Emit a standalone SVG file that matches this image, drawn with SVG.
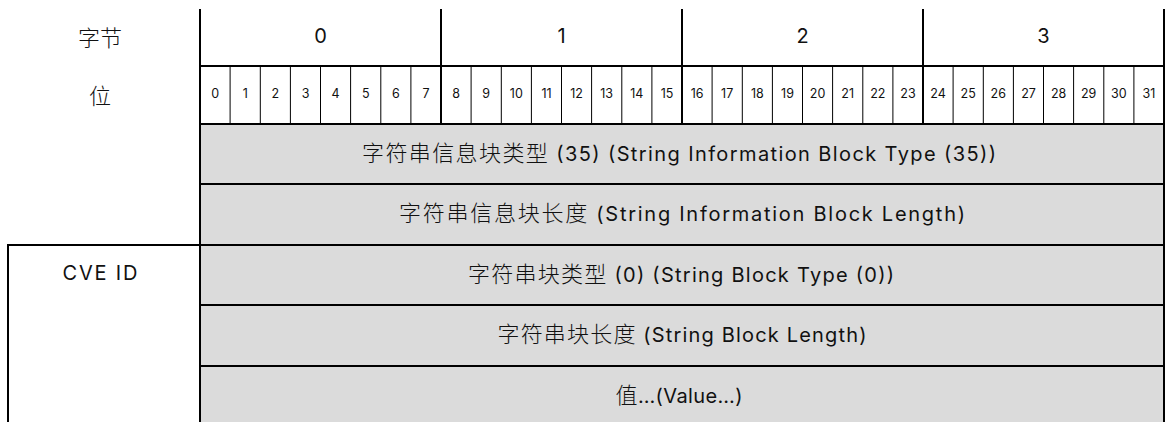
<svg xmlns="http://www.w3.org/2000/svg" width="1169" height="422" viewBox="0 0 1169 422">
<style>
.t{font-family:Inter,"Liberation Sans","Noto Sans CJK SC",sans-serif;fill:#111;text-anchor:middle}
.cjk{font-family:"Noto Sans CJK SC","Liberation Sans",sans-serif;fill:#111;text-anchor:middle;font-weight:300}
.c{font-family:"Noto Sans CJK SC",sans-serif;font-size:22px;font-weight:300}
.bit{font-size:12.5px}
.byte{font-size:20px}
.row{font-size:20px}
.thick{stroke:#000;stroke-width:2;fill:none}
.thin{stroke:#000;stroke-width:1;fill:none}
.cell{fill:#dbdbdb}
</style>
<rect width="1169" height="422" fill="#fff"/>
<g id="labels">
<text class="cjk" x="100" y="46" font-size="22">字节</text>
<text class="cjk" x="100" y="104" font-size="22">位</text>
</g>
<g id="rows-fill">
<rect class="cell" x="200" y="124" width="964" height="298"/>
</g>
<g id="header">
<g id="bits" class="thin">
<path d="M230.1 66V124M260.3 66V124M290.4 66V124M320.5 66V124M350.6 66V124M380.8 66V124M410.9 66V124M471.1 66V124M501.3 66V124M531.4 66V124M561.5 66V124M591.6 66V124M621.8 66V124M651.9 66V124M712.1 66V124M742.3 66V124M772.4 66V124M802.5 66V124M832.6 66V124M862.8 66V124M892.9 66V124M953.1 66V124M983.3 66V124M1013.4 66V124M1043.5 66V124M1073.6 66V124M1103.8 66V124M1133.9 66V124"/>
</g>
<path class="thick" d="M200 9V422M441 9V124M682 9V124M923 9V124M1164 9V422M200 66H1164M200 124H1164"/>
<g class="t byte">
<text x="320.5" y="43">0</text>
<text x="561.5" y="43">1</text>
<text x="802.5" y="43">2</text>
<text x="1043.5" y="43">3</text>
</g>
<g class="t bit">
<text x="215.1" y="98">0</text><text x="245.2" y="98">1</text><text x="275.3" y="98">2</text><text x="305.5" y="98">3</text><text x="335.6" y="98">4</text><text x="365.7" y="98">5</text><text x="395.8" y="98">6</text><text x="426" y="98">7</text>
<text x="456.1" y="98">8</text><text x="486.2" y="98">9</text><text x="516.3" y="98">10</text><text x="546.5" y="98">11</text><text x="576.6" y="98">12</text><text x="606.7" y="98">13</text><text x="636.8" y="98">14</text><text x="667" y="98">15</text>
<text x="697.1" y="98">16</text><text x="727.2" y="98">17</text><text x="757.3" y="98">18</text><text x="787.5" y="98">19</text><text x="817.6" y="98">20</text><text x="847.7" y="98">21</text><text x="877.8" y="98">22</text><text x="908" y="98">23</text>
<text x="938.1" y="98">24</text><text x="968.2" y="98">25</text><text x="998.3" y="98">26</text><text x="1028.5" y="98">27</text><text x="1058.6" y="98">28</text><text x="1088.7" y="98">29</text><text x="1118.8" y="98">30</text><text x="1149" y="98">31</text>
</g>
</g>
<g id="row-lines">
<path class="thick" d="M200 184H1164M200 245H1164M200 305H1164M200 366H1164"/>
</g>
<g id="row1"><text class="t row" x="679" y="161" textLength="634" lengthAdjust="spacing"><tspan class="c">字符串信息块类型</tspan> (35) (String Information Block Type (35))</text></g>
<g id="row2"><text class="t row" x="682" y="221" textLength="566" lengthAdjust="spacing"><tspan class="c">字符串信息块长度</tspan> (String Information Block Length)</text></g>
<g id="row3"><text class="t row" x="681" y="282" textLength="426" lengthAdjust="spacing"><tspan class="c">字符串块类型</tspan> (0) (String Block Type (0))</text></g>
<g id="row4"><text class="t row" x="682" y="342" textLength="369" lengthAdjust="spacing"><tspan class="c">字符串块长度</tspan> (String Block Length)</text></g>
<g id="row5"><text class="t row" x="679" y="403" textLength="127" lengthAdjust="spacing"><tspan class="c">值</tspan>…(Value…)</text></g>
<g id="cve">
<path class="thick" d="M8 422V245H200"/>
<text class="t row" x="100" y="280" textLength="75" lengthAdjust="spacing">CVE ID</text>
</g>
</svg>
